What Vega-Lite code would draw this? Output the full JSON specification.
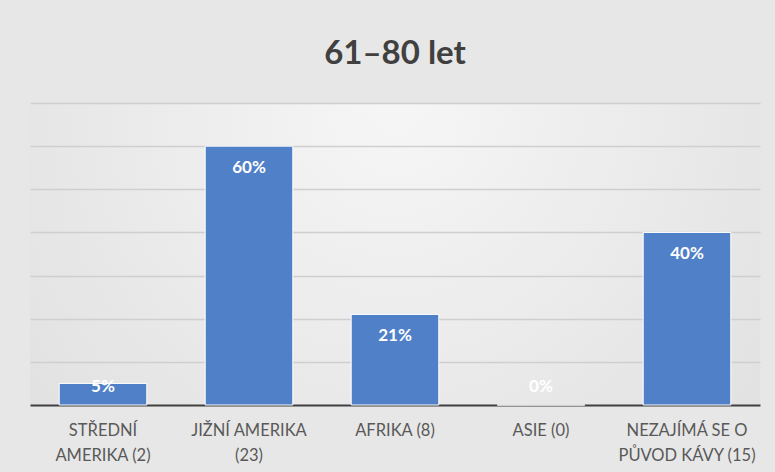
{
  "$schema": "https://vega.github.io/schema/vega-lite/v6.json",
  "autosize": "none",
  "width": 730,
  "height": 302,
  "padding": {"left": 30, "top": 103, "right": 15, "bottom": 67},
  "background": "#e7e7e7",
  "title": {
    "text": "61–80 let",
    "font": "Lato",
    "fontSize": 33,
    "fontWeight": "bold",
    "color": "#404040",
    "anchor": "middle",
    "baseline": "alphabetic",
    "offset": 6
  },
  "data": {
    "values": [
      {"kategorie": "STŘEDNÍ|AMERIKA (2)", "podil": 0.05},
      {"kategorie": "JIŽNÍ AMERIKA|(23)", "podil": 0.60},
      {"kategorie": "AFRIKA (8)", "podil": 0.21},
      {"kategorie": "ASIE (0)", "podil": 0},
      {"kategorie": "NEZAJÍMÁ SE O|PŮVOD KÁVY (15)", "podil": 0.40}
    ]
  },
  "encoding": {
    "x": {
      "field": "kategorie",
      "type": "nominal",
      "sort": null,
      "scale": {"paddingInner": 0.4, "paddingOuter": 0.2},
      "axis": {
        "title": null,
        "labelAngle": 0,
        "labelExpr": "split(datum.label, '|')",
        "labelFont": "Lato",
        "labelFontSize": 16.5,
        "labelColor": "#595959",
        "labelLineHeight": 25,
        "labelPadding": 17,
        "labelBaseline": "top",
        "ticks": false,
        "domainColor": "#404040",
        "domainWidth": 2,
        "grid": false
      }
    },
    "y": {
      "field": "podil",
      "type": "quantitative",
      "scale": {"domain": [0, 0.7], "nice": false},
      "axis": {
        "title": null,
        "labels": false,
        "ticks": false,
        "domain": false,
        "grid": true,
        "gridColor": "#cfcfcf",
        "gridWidth": 1.5,
        "values": [0.1, 0.2, 0.3, 0.4, 0.5, 0.6, 0.7]
      }
    }
  },
  "layer": [
    {
      "mark": {"type": "bar", "color": "#5080c7", "stroke": "#ffffff", "strokeWidth": 1}
    },
    {
      "transform": [{"calculate": "max(datum.podil, 0.093)", "as": "poziceStitku"}],
      "mark": {"type": "text", "color": "#ffffff", "font": "Lato", "fontSize": 17, "fontWeight": "bold", "baseline": "middle", "dy": 22},
      "encoding": {
        "y": {"field": "poziceStitku", "type": "quantitative"},
        "text": {"field": "podil", "type": "quantitative", "format": ".0%"}
      }
    }
  ],
  "config": {
    "view": {
      "stroke": null,
      "fill": {
        "gradient": "radial",
        "x1": 0.5, "y1": 0.3, "r1": 0,
        "x2": 0.5, "y2": 0.3, "r2": 0.75,
        "stops": [
          {"offset": 0, "color": "#f6f6f6"},
          {"offset": 1, "color": "#dedede"}
        ]
      }
    }
  }
}
